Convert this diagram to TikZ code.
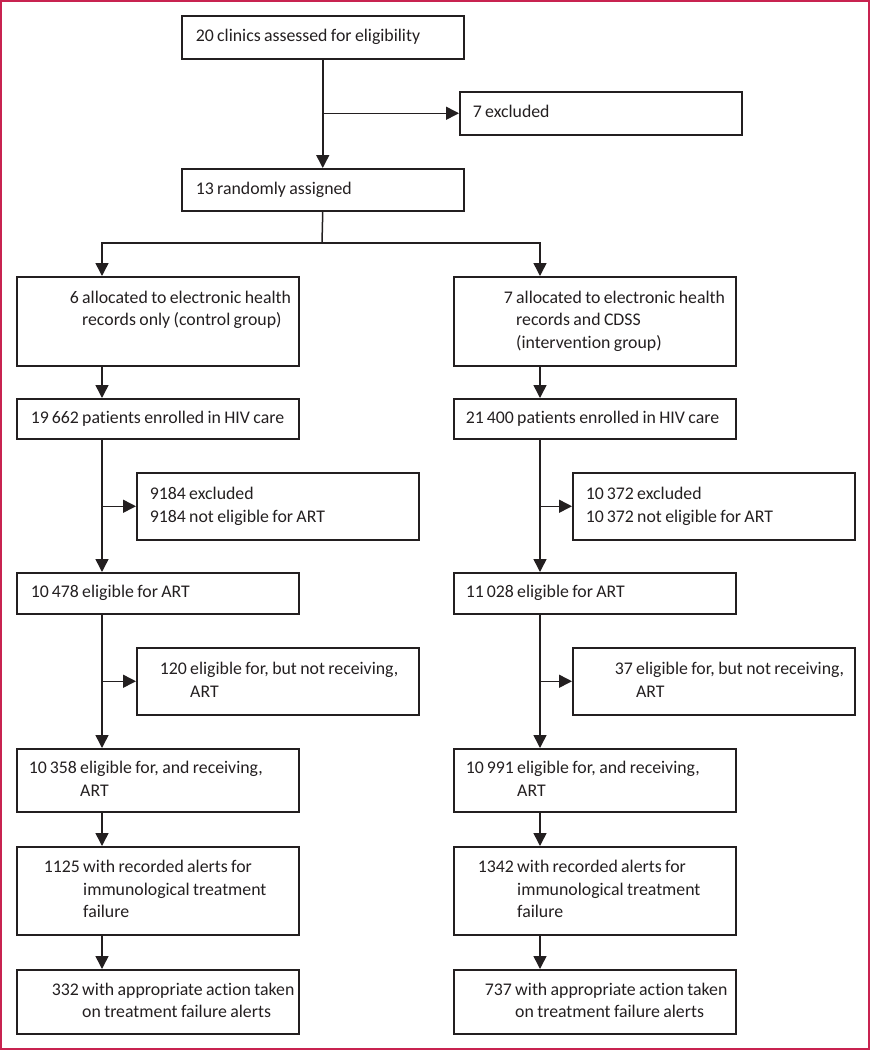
\documentclass[tikz,border=0pt]{standalone}
\usepackage{fontspec}
\setmainfont[Ligatures=NoCommon]{Carlito}
\usetikzlibrary{arrows.meta}
\definecolor{framered}{RGB}{200,35,80}
\definecolor{ink}{RGB}{35,31,32}
\newcommand{\flowtext}[2]{\spaceskip=0.19em\relax\hspace*{#1}\begin{tabular}{@{}r@{\ }l@{}}#2\end{tabular}}

\begin{document}
\begin{tikzpicture}[x=1pt,y=-1pt,
    flow/.style={draw=ink,line width=1.5pt,anchor=north west,text width=282pt,minimum height=#1,inner sep=0pt,align=left,text=ink,font=\fontsize{17.8}{22.5}\selectfont},
    arr/.style={-{Triangle[length=13pt,width=13pt]},draw=ink,line width=1.5pt},
    link/.style={draw=ink,line width=1.5pt}]
    \useasboundingbox (0,0) rectangle (870,1050);
    \draw[framered,line width=2pt] (1,1) rectangle (869,1049);

    \node[flow=43] (clinics) at (181,15)  {\flowtext{14pt}{20 & clinics assessed for eligibility}};
    \node[flow=43] (excl7)   at (459,91)  {\flowtext{13pt}{7 & excluded}};
    \node[flow=42] (random)  at (181,168) {\flowtext{14pt}{13 & randomly assigned}};

    \node[flow=89] (allocL)  at (16,276)  {\flowtext{53pt}{6 & allocated to electronic health\\ & records only (control group)\\ & }};
    \node[flow=89] (allocR)  at (453,276) {\flowtext{50pt}{7 & allocated to electronic health\\ & records and CDSS\\ & (intervention group)}};
    \node[flow=40] (enrolL)  at (16,398)  {\flowtext{14pt}{19\,662 & patients enrolled in HIV care}};
    \node[flow=40] (enrolR)  at (453,398) {\flowtext{12pt}{21\,400 & patients enrolled in HIV care}};
    \node[flow=67] (exclL)   at (136,472) {\flowtext{13pt}{9184 & excluded\\ 9184 & not eligible for ART}};
    \node[flow=67] (exclR)   at (572,472) {\flowtext{13pt}{10\,372 & excluded\\ 10\,372 & not eligible for ART}};
    \node[flow=41] (eligL)   at (16,572)  {\flowtext{14pt}{10\,478 & eligible for ART}};
    \node[flow=41] (eligR)   at (453,572) {\flowtext{12pt}{11\,028 & eligible for ART}};
    \node[flow=67] (notrecL) at (136,647) {\flowtext{23pt}{120 & eligible for, but not receiving,\\ & ART}};
    \node[flow=67] (notrecR) at (572,647) {\flowtext{42pt}{37 & eligible for, but not receiving,\\ & ART}};
    \node[flow=63] (recL)    at (16,748)  {\flowtext{12pt}{10\,358 & eligible for, and receiving,\\ & ART}};
    \node[flow=63] (recR)    at (453,748) {\flowtext{12pt}{10\,991 & eligible for, and receiving,\\ & ART}};
    \node[flow=88] (alertL)  at (16,846)  {\flowtext{27pt}{1125 & with recorded alerts for\\ & immunological treatment\\ & failure}};
    \node[flow=88] (alertR)  at (453,846) {\flowtext{24pt}{1342 & with recorded alerts for\\ & immunological treatment\\ & failure}};
    \node[flow=64] (actionL) at (16,969)  {\flowtext{35pt}{332 & with appropriate action taken\\ & on treatment failure alerts}};
    \node[flow=64] (actionR) at (453,969) {\flowtext{31pt}{737 & with appropriate action taken\\ & on treatment failure alerts}};

    \coordinate (lx)    at (102,0);
    \coordinate (rx)    at (540,0);
    \coordinate (split) at (322,243);

    \draw[arr]  (clinics.south) -- (random.north);
    \draw[arr]  (clinics.south |- excl7.west) -- (excl7.west);
    \draw[link] (random.south) -- (split);
    \draw[arr]  (split) -| (allocL.north -| lx);
    \draw[arr]  (split) -| (allocR.north -| rx);

    \draw[arr]  (allocL.south -| lx) -- (enrolL.north -| lx);
    \draw[arr]  (enrolL.south -| lx) -- (eligL.north -| lx);
    \draw[arr]  (exclL.west -| lx)   -- (exclL.west);
    \draw[arr]  (eligL.south -| lx)  -- (recL.north -| lx);
    \draw[arr]  (notrecL.west -| lx) -- (notrecL.west);
    \draw[arr]  (recL.south -| lx)   -- (alertL.north -| lx);
    \draw[arr]  (alertL.south -| lx) -- (actionL.north -| lx);

    \draw[arr]  (allocR.south -| rx) -- (enrolR.north -| rx);
    \draw[arr]  (enrolR.south -| rx) -- (eligR.north -| rx);
    \draw[arr]  (exclR.west -| rx)   -- (exclR.west);
    \draw[arr]  (eligR.south -| rx)  -- (recR.north -| rx);
    \draw[arr]  (notrecR.west -| rx) -- (notrecR.west);
    \draw[arr]  (recR.south -| rx)   -- (alertR.north -| rx);
    \draw[arr]  (alertR.south -| rx) -- (actionR.north -| rx);
\end{tikzpicture}
\end{document}
